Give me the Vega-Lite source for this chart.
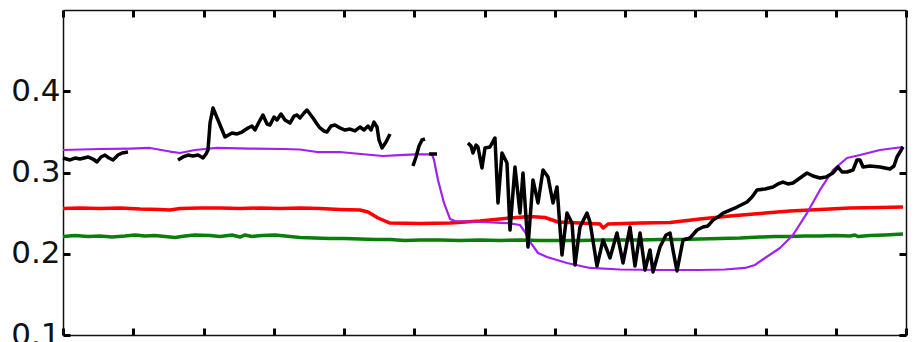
{
  "$schema": "https://vega.github.io/schema/vega-lite/v6.json",
  "width": 843,
  "height": 325,
  "autosize": "none",
  "padding": {"left": 63, "top": 10, "right": 12, "bottom": 7},
  "background": "white",
  "config": {
    "view": {"stroke": null},
    "axis": {
      "grid": false,
      "title": null,
      "domainColor": "#111111",
      "domainWidth": 1.5,
      "tickColor": "#000000",
      "tickWidth": 3,
      "tickSize": -7,
      "labelFont": "DejaVu Sans",
      "labelFontSize": 31,
      "labelColor": "#111111"
    }
  },
  "data": {
    "values": [
      {"series": "green", "part": 0, "x": 0.000, "y": 0.2212},
      {"series": "green", "part": 0, "x": 0.171, "y": 0.2225},
      {"series": "green", "part": 0, "x": 0.356, "y": 0.2212},
      {"series": "green", "part": 0, "x": 0.527, "y": 0.2218},
      {"series": "green", "part": 0, "x": 0.698, "y": 0.2206},
      {"series": "green", "part": 0, "x": 0.883, "y": 0.2218},
      {"series": "green", "part": 0, "x": 1.025, "y": 0.2231},
      {"series": "green", "part": 0, "x": 1.167, "y": 0.2218},
      {"series": "green", "part": 0, "x": 1.310, "y": 0.2225},
      {"series": "green", "part": 0, "x": 1.452, "y": 0.2212},
      {"series": "green", "part": 0, "x": 1.594, "y": 0.2200},
      {"series": "green", "part": 0, "x": 1.737, "y": 0.2218},
      {"series": "green", "part": 0, "x": 1.879, "y": 0.2231},
      {"series": "green", "part": 0, "x": 2.093, "y": 0.2225},
      {"series": "green", "part": 0, "x": 2.235, "y": 0.2212},
      {"series": "green", "part": 0, "x": 2.406, "y": 0.2231},
      {"series": "green", "part": 0, "x": 2.520, "y": 0.2206},
      {"series": "green", "part": 0, "x": 2.591, "y": 0.2231},
      {"series": "green", "part": 0, "x": 2.690, "y": 0.2212},
      {"series": "green", "part": 0, "x": 2.833, "y": 0.2225},
      {"series": "green", "part": 0, "x": 3.018, "y": 0.2231},
      {"series": "green", "part": 0, "x": 3.231, "y": 0.2212},
      {"series": "green", "part": 0, "x": 3.374, "y": 0.2200},
      {"series": "green", "part": 0, "x": 3.587, "y": 0.2194},
      {"series": "green", "part": 0, "x": 3.801, "y": 0.2188},
      {"series": "green", "part": 0, "x": 4.014, "y": 0.2188},
      {"series": "green", "part": 0, "x": 4.228, "y": 0.2182},
      {"series": "green", "part": 0, "x": 4.441, "y": 0.2175},
      {"series": "green", "part": 0, "x": 4.655, "y": 0.2175},
      {"series": "green", "part": 0, "x": 4.868, "y": 0.2163},
      {"series": "green", "part": 0, "x": 5.082, "y": 0.2169},
      {"series": "green", "part": 0, "x": 5.367, "y": 0.2169},
      {"series": "green", "part": 0, "x": 5.651, "y": 0.2163},
      {"series": "green", "part": 0, "x": 5.936, "y": 0.2169},
      {"series": "green", "part": 0, "x": 6.221, "y": 0.2163},
      {"series": "green", "part": 0, "x": 6.505, "y": 0.2169},
      {"series": "green", "part": 0, "x": 6.790, "y": 0.2163},
      {"series": "green", "part": 0, "x": 7.075, "y": 0.2163},
      {"series": "green", "part": 0, "x": 7.359, "y": 0.2163},
      {"series": "green", "part": 0, "x": 7.644, "y": 0.2169},
      {"series": "green", "part": 0, "x": 7.929, "y": 0.2169},
      {"series": "green", "part": 0, "x": 8.214, "y": 0.2169},
      {"series": "green", "part": 0, "x": 8.498, "y": 0.2175},
      {"series": "green", "part": 0, "x": 8.783, "y": 0.2175},
      {"series": "green", "part": 0, "x": 9.068, "y": 0.2182},
      {"series": "green", "part": 0, "x": 9.352, "y": 0.2188},
      {"series": "green", "part": 0, "x": 9.637, "y": 0.2194},
      {"series": "green", "part": 0, "x": 9.922, "y": 0.2206},
      {"series": "green", "part": 0, "x": 10.135, "y": 0.2212},
      {"series": "green", "part": 0, "x": 10.349, "y": 0.2212},
      {"series": "green", "part": 0, "x": 10.562, "y": 0.2218},
      {"series": "green", "part": 0, "x": 10.776, "y": 0.2218},
      {"series": "green", "part": 0, "x": 10.989, "y": 0.2225},
      {"series": "green", "part": 0, "x": 11.203, "y": 0.2218},
      {"series": "green", "part": 0, "x": 11.274, "y": 0.2231},
      {"series": "green", "part": 0, "x": 11.317, "y": 0.2212},
      {"series": "green", "part": 0, "x": 11.488, "y": 0.2225},
      {"series": "green", "part": 0, "x": 11.701, "y": 0.2231},
      {"series": "green", "part": 0, "x": 11.957, "y": 0.2243},

      {"series": "red", "part": 0, "x": 0.000, "y": 0.2557},
      {"series": "red", "part": 0, "x": 0.242, "y": 0.2563},
      {"series": "red", "part": 0, "x": 0.527, "y": 0.2557},
      {"series": "red", "part": 0, "x": 0.811, "y": 0.2563},
      {"series": "red", "part": 0, "x": 1.096, "y": 0.2551},
      {"series": "red", "part": 0, "x": 1.381, "y": 0.2545},
      {"series": "red", "part": 0, "x": 1.523, "y": 0.2538},
      {"series": "red", "part": 0, "x": 1.665, "y": 0.2557},
      {"series": "red", "part": 0, "x": 1.950, "y": 0.2563},
      {"series": "red", "part": 0, "x": 2.235, "y": 0.2563},
      {"series": "red", "part": 0, "x": 2.520, "y": 0.2557},
      {"series": "red", "part": 0, "x": 2.804, "y": 0.2563},
      {"series": "red", "part": 0, "x": 3.089, "y": 0.2557},
      {"series": "red", "part": 0, "x": 3.374, "y": 0.2563},
      {"series": "red", "part": 0, "x": 3.658, "y": 0.2557},
      {"series": "red", "part": 0, "x": 3.943, "y": 0.2545},
      {"series": "red", "part": 0, "x": 4.228, "y": 0.2538},
      {"series": "red", "part": 0, "x": 4.342, "y": 0.2514},
      {"series": "red", "part": 0, "x": 4.484, "y": 0.2440},
      {"series": "red", "part": 0, "x": 4.655, "y": 0.2378},
      {"series": "red", "part": 0, "x": 5.082, "y": 0.2372},
      {"series": "red", "part": 0, "x": 5.509, "y": 0.2378},
      {"series": "red", "part": 0, "x": 5.936, "y": 0.2403},
      {"series": "red", "part": 0, "x": 6.363, "y": 0.2440},
      {"series": "red", "part": 0, "x": 6.648, "y": 0.2458},
      {"series": "red", "part": 0, "x": 6.861, "y": 0.2446},
      {"series": "red", "part": 0, "x": 7.046, "y": 0.2391},
      {"series": "red", "part": 0, "x": 7.359, "y": 0.2378},
      {"series": "red", "part": 0, "x": 7.644, "y": 0.2366},
      {"series": "red", "part": 0, "x": 7.687, "y": 0.2317},
      {"series": "red", "part": 0, "x": 7.758, "y": 0.2366},
      {"series": "red", "part": 0, "x": 8.214, "y": 0.2378},
      {"series": "red", "part": 0, "x": 8.641, "y": 0.2385},
      {"series": "red", "part": 0, "x": 9.068, "y": 0.2428},
      {"series": "red", "part": 0, "x": 9.495, "y": 0.2465},
      {"series": "red", "part": 0, "x": 9.922, "y": 0.2495},
      {"series": "red", "part": 0, "x": 10.349, "y": 0.2526},
      {"series": "red", "part": 0, "x": 10.776, "y": 0.2545},
      {"series": "red", "part": 0, "x": 11.203, "y": 0.2563},
      {"series": "red", "part": 0, "x": 11.630, "y": 0.2569},
      {"series": "red", "part": 0, "x": 11.957, "y": 0.2575},

      {"series": "purple", "part": 0, "x": 0.000, "y": 0.3277},
      {"series": "purple", "part": 0, "x": 0.527, "y": 0.3289},
      {"series": "purple", "part": 0, "x": 0.954, "y": 0.3295},
      {"series": "purple", "part": 0, "x": 1.238, "y": 0.3302},
      {"series": "purple", "part": 0, "x": 1.523, "y": 0.3258},
      {"series": "purple", "part": 0, "x": 1.665, "y": 0.3240},
      {"series": "purple", "part": 0, "x": 1.879, "y": 0.3277},
      {"series": "purple", "part": 0, "x": 2.192, "y": 0.3302},
      {"series": "purple", "part": 0, "x": 2.662, "y": 0.3295},
      {"series": "purple", "part": 0, "x": 3.132, "y": 0.3289},
      {"series": "purple", "part": 0, "x": 3.374, "y": 0.3283},
      {"series": "purple", "part": 0, "x": 3.616, "y": 0.3252},
      {"series": "purple", "part": 0, "x": 3.943, "y": 0.3252},
      {"series": "purple", "part": 0, "x": 4.085, "y": 0.3240},
      {"series": "purple", "part": 0, "x": 4.555, "y": 0.3203},
      {"series": "purple", "part": 0, "x": 4.797, "y": 0.3215},
      {"series": "purple", "part": 0, "x": 5.011, "y": 0.3222},
      {"series": "purple", "part": 0, "x": 5.253, "y": 0.3222},
      {"series": "purple", "part": 0, "x": 5.281, "y": 0.3154},
      {"series": "purple", "part": 0, "x": 5.338, "y": 0.2908},
      {"series": "purple", "part": 0, "x": 5.423, "y": 0.2625},
      {"series": "purple", "part": 0, "x": 5.509, "y": 0.2428},
      {"series": "purple", "part": 0, "x": 5.580, "y": 0.2403},
      {"series": "purple", "part": 0, "x": 5.936, "y": 0.2391},
      {"series": "purple", "part": 0, "x": 6.320, "y": 0.2378},
      {"series": "purple", "part": 0, "x": 6.505, "y": 0.2354},
      {"series": "purple", "part": 0, "x": 6.577, "y": 0.2267},
      {"series": "purple", "part": 0, "x": 6.648, "y": 0.2145},
      {"series": "purple", "part": 0, "x": 6.762, "y": 0.2009},
      {"series": "purple", "part": 0, "x": 6.890, "y": 0.1960},
      {"series": "purple", "part": 0, "x": 7.174, "y": 0.1886},
      {"series": "purple", "part": 0, "x": 7.502, "y": 0.1825},
      {"series": "purple", "part": 0, "x": 7.929, "y": 0.1806},
      {"series": "purple", "part": 0, "x": 8.498, "y": 0.1800},
      {"series": "purple", "part": 0, "x": 9.068, "y": 0.1800},
      {"series": "purple", "part": 0, "x": 9.423, "y": 0.1806},
      {"series": "purple", "part": 0, "x": 9.708, "y": 0.1825},
      {"series": "purple", "part": 0, "x": 9.851, "y": 0.1862},
      {"series": "purple", "part": 0, "x": 9.993, "y": 0.1948},
      {"series": "purple", "part": 0, "x": 10.206, "y": 0.2071},
      {"series": "purple", "part": 0, "x": 10.391, "y": 0.2231},
      {"series": "purple", "part": 0, "x": 10.591, "y": 0.2501},
      {"series": "purple", "part": 0, "x": 10.776, "y": 0.2785},
      {"series": "purple", "part": 0, "x": 10.961, "y": 0.3031},
      {"series": "purple", "part": 0, "x": 11.160, "y": 0.3178},
      {"series": "purple", "part": 0, "x": 11.345, "y": 0.3215},
      {"series": "purple", "part": 0, "x": 11.630, "y": 0.3277},
      {"series": "purple", "part": 0, "x": 11.957, "y": 0.3314},

      {"series": "black", "part": 1, "x": 0.000, "y": 0.3178},
      {"series": "black", "part": 1, "x": 0.100, "y": 0.3154},
      {"series": "black", "part": 1, "x": 0.171, "y": 0.3178},
      {"series": "black", "part": 1, "x": 0.242, "y": 0.3166},
      {"series": "black", "part": 1, "x": 0.356, "y": 0.3191},
      {"series": "black", "part": 1, "x": 0.427, "y": 0.3166},
      {"series": "black", "part": 1, "x": 0.484, "y": 0.3129},
      {"series": "black", "part": 1, "x": 0.541, "y": 0.3191},
      {"series": "black", "part": 1, "x": 0.598, "y": 0.3215},
      {"series": "black", "part": 1, "x": 0.655, "y": 0.3178},
      {"series": "black", "part": 1, "x": 0.712, "y": 0.3154},
      {"series": "black", "part": 1, "x": 0.783, "y": 0.3215},
      {"series": "black", "part": 1, "x": 0.840, "y": 0.3240},
      {"series": "black", "part": 1, "x": 0.925, "y": 0.3252},

      {"series": "black", "part": 2, "x": 1.637, "y": 0.3154},
      {"series": "black", "part": 2, "x": 1.708, "y": 0.3191},
      {"series": "black", "part": 2, "x": 1.779, "y": 0.3215},
      {"series": "black", "part": 2, "x": 1.851, "y": 0.3203},
      {"series": "black", "part": 2, "x": 1.922, "y": 0.3215},
      {"series": "black", "part": 2, "x": 1.993, "y": 0.3178},
      {"series": "black", "part": 2, "x": 2.036, "y": 0.3228},
      {"series": "black", "part": 2, "x": 2.064, "y": 0.3277},
      {"series": "black", "part": 2, "x": 2.093, "y": 0.3609},
      {"series": "black", "part": 2, "x": 2.135, "y": 0.3794},
      {"series": "black", "part": 2, "x": 2.206, "y": 0.3646},
      {"series": "black", "part": 2, "x": 2.306, "y": 0.3437},
      {"series": "black", "part": 2, "x": 2.406, "y": 0.3486},
      {"series": "black", "part": 2, "x": 2.477, "y": 0.3474},
      {"series": "black", "part": 2, "x": 2.548, "y": 0.3498},
      {"series": "black", "part": 2, "x": 2.633, "y": 0.3548},
      {"series": "black", "part": 2, "x": 2.690, "y": 0.3572},
      {"series": "black", "part": 2, "x": 2.733, "y": 0.3523},
      {"series": "black", "part": 2, "x": 2.790, "y": 0.3621},
      {"series": "black", "part": 2, "x": 2.847, "y": 0.3708},
      {"series": "black", "part": 2, "x": 2.904, "y": 0.3597},
      {"series": "black", "part": 2, "x": 2.947, "y": 0.3585},
      {"series": "black", "part": 2, "x": 3.004, "y": 0.3683},
      {"series": "black", "part": 2, "x": 3.046, "y": 0.3646},
      {"series": "black", "part": 2, "x": 3.103, "y": 0.3720},
      {"series": "black", "part": 2, "x": 3.160, "y": 0.3646},
      {"series": "black", "part": 2, "x": 3.231, "y": 0.3609},
      {"series": "black", "part": 2, "x": 3.288, "y": 0.3695},
      {"series": "black", "part": 2, "x": 3.331, "y": 0.3708},
      {"series": "black", "part": 2, "x": 3.374, "y": 0.3671},
      {"series": "black", "part": 2, "x": 3.431, "y": 0.3732},
      {"series": "black", "part": 2, "x": 3.473, "y": 0.3769},
      {"series": "black", "part": 2, "x": 3.516, "y": 0.3720},
      {"series": "black", "part": 2, "x": 3.559, "y": 0.3671},
      {"series": "black", "part": 2, "x": 3.616, "y": 0.3597},
      {"series": "black", "part": 2, "x": 3.658, "y": 0.3548},
      {"series": "black", "part": 2, "x": 3.715, "y": 0.3511},
      {"series": "black", "part": 2, "x": 3.758, "y": 0.3498},
      {"series": "black", "part": 2, "x": 3.815, "y": 0.3572},
      {"series": "black", "part": 2, "x": 3.872, "y": 0.3585},
      {"series": "black", "part": 2, "x": 3.943, "y": 0.3548},
      {"series": "black", "part": 2, "x": 4.014, "y": 0.3523},
      {"series": "black", "part": 2, "x": 4.085, "y": 0.3535},
      {"series": "black", "part": 2, "x": 4.157, "y": 0.3511},
      {"series": "black", "part": 2, "x": 4.228, "y": 0.3560},
      {"series": "black", "part": 2, "x": 4.285, "y": 0.3523},
      {"series": "black", "part": 2, "x": 4.342, "y": 0.3572},
      {"series": "black", "part": 2, "x": 4.384, "y": 0.3523},
      {"series": "black", "part": 2, "x": 4.427, "y": 0.3621},
      {"series": "black", "part": 2, "x": 4.470, "y": 0.3560},
      {"series": "black", "part": 2, "x": 4.498, "y": 0.3400},
      {"series": "black", "part": 2, "x": 4.541, "y": 0.3302},
      {"series": "black", "part": 2, "x": 4.598, "y": 0.3375},
      {"series": "black", "part": 2, "x": 4.655, "y": 0.3474},

      {"series": "black", "part": 3, "x": 4.982, "y": 0.3080},
      {"series": "black", "part": 3, "x": 5.025, "y": 0.3191},
      {"series": "black", "part": 3, "x": 5.068, "y": 0.3326},
      {"series": "black", "part": 3, "x": 5.110, "y": 0.3400},
      {"series": "black", "part": 3, "x": 5.153, "y": 0.3412},

      {"series": "black", "part": 4, "x": 5.210, "y": 0.3228},
      {"series": "black", "part": 4, "x": 5.324, "y": 0.3228},

      {"series": "black", "part": 5, "x": 5.765, "y": 0.3363},
      {"series": "black", "part": 5, "x": 5.808, "y": 0.3326},
      {"series": "black", "part": 5, "x": 5.836, "y": 0.3240},
      {"series": "black", "part": 5, "x": 5.879, "y": 0.3338},
      {"series": "black", "part": 5, "x": 5.907, "y": 0.3314},
      {"series": "black", "part": 5, "x": 5.964, "y": 0.3055},
      {"series": "black", "part": 5, "x": 6.007, "y": 0.3302},
      {"series": "black", "part": 5, "x": 6.078, "y": 0.3314},
      {"series": "black", "part": 5, "x": 6.149, "y": 0.3425},
      {"series": "black", "part": 5, "x": 6.192, "y": 0.2625},
      {"series": "black", "part": 5, "x": 6.249, "y": 0.3240},
      {"series": "black", "part": 5, "x": 6.320, "y": 0.3117},
      {"series": "black", "part": 5, "x": 6.363, "y": 0.2292},
      {"series": "black", "part": 5, "x": 6.434, "y": 0.3068},
      {"series": "black", "part": 5, "x": 6.505, "y": 0.2501},
      {"series": "black", "part": 5, "x": 6.548, "y": 0.2994},
      {"series": "black", "part": 5, "x": 6.619, "y": 0.2083},
      {"series": "black", "part": 5, "x": 6.690, "y": 0.2908},
      {"series": "black", "part": 5, "x": 6.762, "y": 0.2625},
      {"series": "black", "part": 5, "x": 6.833, "y": 0.3031},
      {"series": "black", "part": 5, "x": 6.904, "y": 0.2945},
      {"series": "black", "part": 5, "x": 6.975, "y": 0.2625},
      {"series": "black", "part": 5, "x": 7.032, "y": 0.2822},
      {"series": "black", "part": 5, "x": 7.103, "y": 0.1985},
      {"series": "black", "part": 5, "x": 7.174, "y": 0.2501},
      {"series": "black", "part": 5, "x": 7.246, "y": 0.2378},
      {"series": "black", "part": 5, "x": 7.288, "y": 0.1862},
      {"series": "black", "part": 5, "x": 7.359, "y": 0.2329},
      {"series": "black", "part": 5, "x": 7.459, "y": 0.2501},
      {"series": "black", "part": 5, "x": 7.502, "y": 0.2391},
      {"series": "black", "part": 5, "x": 7.601, "y": 0.1849},
      {"series": "black", "part": 5, "x": 7.687, "y": 0.2169},
      {"series": "black", "part": 5, "x": 7.744, "y": 0.2046},
      {"series": "black", "part": 5, "x": 7.786, "y": 0.1948},
      {"series": "black", "part": 5, "x": 7.886, "y": 0.2255},
      {"series": "black", "part": 5, "x": 7.972, "y": 0.1886},
      {"series": "black", "part": 5, "x": 8.071, "y": 0.2329},
      {"series": "black", "part": 5, "x": 8.142, "y": 0.1849},
      {"series": "black", "part": 5, "x": 8.214, "y": 0.2255},
      {"series": "black", "part": 5, "x": 8.285, "y": 0.1800},
      {"series": "black", "part": 5, "x": 8.356, "y": 0.2046},
      {"series": "black", "part": 5, "x": 8.399, "y": 0.1775},
      {"series": "black", "part": 5, "x": 8.498, "y": 0.2083},
      {"series": "black", "part": 5, "x": 8.584, "y": 0.2231},
      {"series": "black", "part": 5, "x": 8.641, "y": 0.2255},
      {"series": "black", "part": 5, "x": 8.683, "y": 0.2046},
      {"series": "black", "part": 5, "x": 8.740, "y": 0.1788},
      {"series": "black", "part": 5, "x": 8.826, "y": 0.2169},
      {"series": "black", "part": 5, "x": 8.925, "y": 0.2194},
      {"series": "black", "part": 5, "x": 9.025, "y": 0.2292},
      {"series": "black", "part": 5, "x": 9.110, "y": 0.2329},
      {"series": "black", "part": 5, "x": 9.181, "y": 0.2342},
      {"series": "black", "part": 5, "x": 9.253, "y": 0.2415},
      {"series": "black", "part": 5, "x": 9.324, "y": 0.2452},
      {"series": "black", "part": 5, "x": 9.395, "y": 0.2501},
      {"series": "black", "part": 5, "x": 9.495, "y": 0.2538},
      {"series": "black", "part": 5, "x": 9.594, "y": 0.2575},
      {"series": "black", "part": 5, "x": 9.680, "y": 0.2612},
      {"series": "black", "part": 5, "x": 9.737, "y": 0.2637},
      {"series": "black", "part": 5, "x": 9.808, "y": 0.2698},
      {"series": "black", "part": 5, "x": 9.879, "y": 0.2785},
      {"series": "black", "part": 5, "x": 9.993, "y": 0.2797},
      {"series": "black", "part": 5, "x": 10.107, "y": 0.2822},
      {"series": "black", "part": 5, "x": 10.178, "y": 0.2859},
      {"series": "black", "part": 5, "x": 10.249, "y": 0.2883},
      {"series": "black", "part": 5, "x": 10.320, "y": 0.2859},
      {"series": "black", "part": 5, "x": 10.391, "y": 0.2871},
      {"series": "black", "part": 5, "x": 10.491, "y": 0.2932},
      {"series": "black", "part": 5, "x": 10.591, "y": 0.2994},
      {"series": "black", "part": 5, "x": 10.676, "y": 0.2957},
      {"series": "black", "part": 5, "x": 10.776, "y": 0.2932},
      {"series": "black", "part": 5, "x": 10.861, "y": 0.2945},
      {"series": "black", "part": 5, "x": 10.961, "y": 0.2994},
      {"series": "black", "part": 5, "x": 11.032, "y": 0.3068},
      {"series": "black", "part": 5, "x": 11.089, "y": 0.3006},
      {"series": "black", "part": 5, "x": 11.160, "y": 0.3006},
      {"series": "black", "part": 5, "x": 11.246, "y": 0.3031},
      {"series": "black", "part": 5, "x": 11.302, "y": 0.3154},
      {"series": "black", "part": 5, "x": 11.345, "y": 0.3154},
      {"series": "black", "part": 5, "x": 11.388, "y": 0.3068},
      {"series": "black", "part": 5, "x": 11.488, "y": 0.3080},
      {"series": "black", "part": 5, "x": 11.630, "y": 0.3068},
      {"series": "black", "part": 5, "x": 11.772, "y": 0.3043},
      {"series": "black", "part": 5, "x": 11.829, "y": 0.3080},
      {"series": "black", "part": 5, "x": 11.872, "y": 0.3191},
      {"series": "black", "part": 5, "x": 11.915, "y": 0.3252},
      {"series": "black", "part": 5, "x": 11.957, "y": 0.3314}
    ]
  },
  "layer": [
    {
      "transform": [{"filter": "datum.series === 'green'"}],
      "mark": {"type": "line", "color": "#0a7d0a", "strokeWidth": 3.5, "strokeJoin": "round"},
      "encoding": {
        "x": {"field": "x", "type": "quantitative", "scale": {"domain": [0, 12], "nice": false, "zero": false},
              "axis": {"orient": "top", "labels": false, "values": [0, 1, 2, 3, 4, 5, 6, 7, 8, 9, 10, 11, 12]}},
        "y": {"field": "y", "type": "quantitative", "scale": {"domain": [0.1, 0.5], "nice": false, "zero": false},
              "axis": {"orient": "right", "labels": false, "values": [0.1, 0.2, 0.3, 0.4]}}
      }
    },
    {
      "transform": [{"filter": "datum.series === 'red'"}],
      "mark": {"type": "line", "color": "#ff0000", "strokeWidth": 3.5, "strokeJoin": "round"},
      "encoding": {
        "x": {"field": "x", "type": "quantitative", "axis": null},
        "y": {"field": "y", "type": "quantitative", "axis": null}
      }
    },
    {
      "transform": [{"filter": "datum.series === 'purple'"}],
      "mark": {"type": "line", "color": "#a020f0", "strokeWidth": 2.2, "strokeJoin": "round"},
      "encoding": {
        "x": {"field": "x", "type": "quantitative", "axis": null},
        "y": {"field": "y", "type": "quantitative", "axis": null}
      }
    },
    {
      "transform": [{"filter": "datum.series === 'black'"}],
      "mark": {"type": "line", "color": "#000000", "strokeWidth": 3.5, "strokeJoin": "round"},
      "encoding": {
        "x": {"field": "x", "type": "quantitative",
              "axis": {"orient": "bottom", "labels": false, "values": [0, 1, 2, 3, 4, 5, 6, 7, 8, 9, 10, 11, 12]}},
        "y": {"field": "y", "type": "quantitative",
              "axis": {"orient": "left", "values": [0.1, 0.2, 0.3, 0.4], "format": ".1f", "labelPadding": 10}},
        "detail": {"field": "part", "type": "nominal"}
      }
    }
  ],
  "resolve": {"axis": {"x": "independent", "y": "independent"}}
}
